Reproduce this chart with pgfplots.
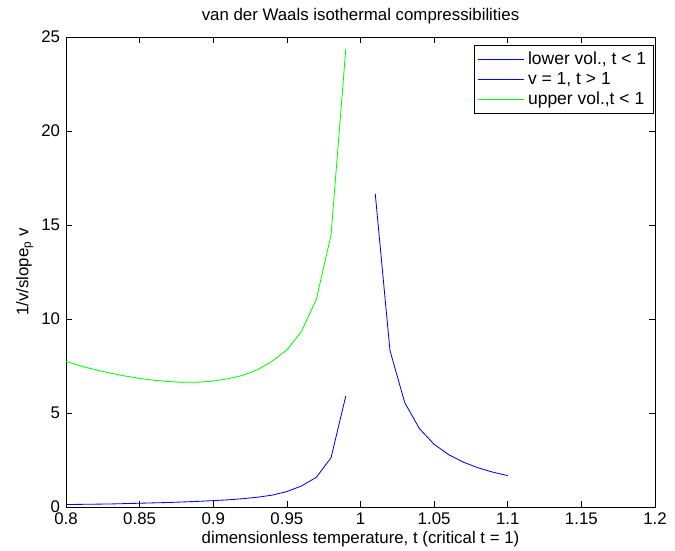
\documentclass[border=0pt]{standalone}
\usepackage{fontspec}
\setmainfont{Liberation Sans}
\usepackage{pgfplots}
\pgfplotsset{compat=1.18}
\begin{document}
\fontsize{10pt}{12pt}\selectfont
\begin{tikzpicture}
\begin{axis}[
  width=353.4pt, height=282pt, scale only axis,
  xmin=0.8, xmax=1.2, ymin=0, ymax=25,
  xtick={0.8,0.85,0.9,0.95,1,1.05,1.1,1.15,1.2},
  xticklabels={0.8,0.85,0.9,0.95,1,1.05,1.1,1.15,1.2},
  ytick={0,5,10,15,20,25},
  /pgf/number format/assume math mode=true,
  tick align=inside, tick pos=both, major tick length=3.6pt,
  tick style={black, line width=0.4pt},
  axis line style={black, line width=0.5pt},
  ticklabel style={font=\fontsize{10.1pt}{12pt}\selectfont},
  title={van der Waals isothermal compressibilities},
  title style={font=\fontsize{10.1pt}{12pt}\selectfont, yshift=-2pt},
  xlabel={dimensionless temperature, t (critical t = 1)},
  ylabel={1/v/slope\textsubscript{p} v},
  label style={font=\fontsize{10.1pt}{12pt}\selectfont},
  xlabel style={yshift=3pt},
  ylabel style={yshift=-2pt},
  legend style={at={(rel axis cs:0.997,0.983)}, anchor=north east,
    font=\fontsize{10.5pt}{12.5pt}\selectfont,
    inner sep=2pt, row sep=-1pt},
  legend cell align=left,
]
\addplot[color=blue, line width=0.5pt,
  legend image code/.code={\draw[draw=blue, line width=0.5pt] (0pt,0pt) -- (28pt,0pt);}] table {
x y
0.80 0.13
0.81 0.14
0.82 0.15
0.83 0.16
0.84 0.18
0.85 0.20
0.86 0.22
0.87 0.24
0.88 0.27
0.89 0.30
0.90 0.34
0.91 0.38
0.92 0.44
0.93 0.52
0.94 0.63
0.95 0.82
0.96 1.12
0.97 1.58
0.98 2.62
0.99 5.90
};
\addlegendentry{lower vol., t < 1}
\addplot[color=blue, line width=0.5pt,
  legend image code/.code={\draw[draw=blue, line width=0.5pt] (0pt,0pt) -- (28pt,0pt);}] table {
x y
1.01 16.67
1.02 8.33
1.03 5.56
1.04 4.17
1.05 3.33
1.06 2.78
1.07 2.38
1.08 2.08
1.09 1.85
1.10 1.67
};
\addlegendentry{v = 1, t > 1}
\addplot[color=green, line width=0.5pt,
  legend image code/.code={\draw[draw=green, line width=0.5pt] (0pt,0pt) -- (28pt,0pt);}] table {
x y
0.80 7.75
0.81 7.50
0.82 7.30
0.83 7.12
0.84 6.97
0.85 6.84
0.86 6.74
0.87 6.67
0.88 6.63
0.89 6.64
0.90 6.70
0.91 6.82
0.92 7.00
0.93 7.30
0.94 7.75
0.95 8.35
0.96 9.35
0.97 11.05
0.98 14.47
0.99 24.35
};
\addlegendentry{upper vol.,t < 1}
\end{axis}
\path (current axis.south west) ++(-39.6pt,-26.4pt) coordinate (bba);
\path (current axis.north east) ++(12pt,22.2pt) coordinate (bbb);
\pgfresetboundingbox
\useasboundingbox (bba) rectangle (bbb);
\end{tikzpicture}
\end{document}
